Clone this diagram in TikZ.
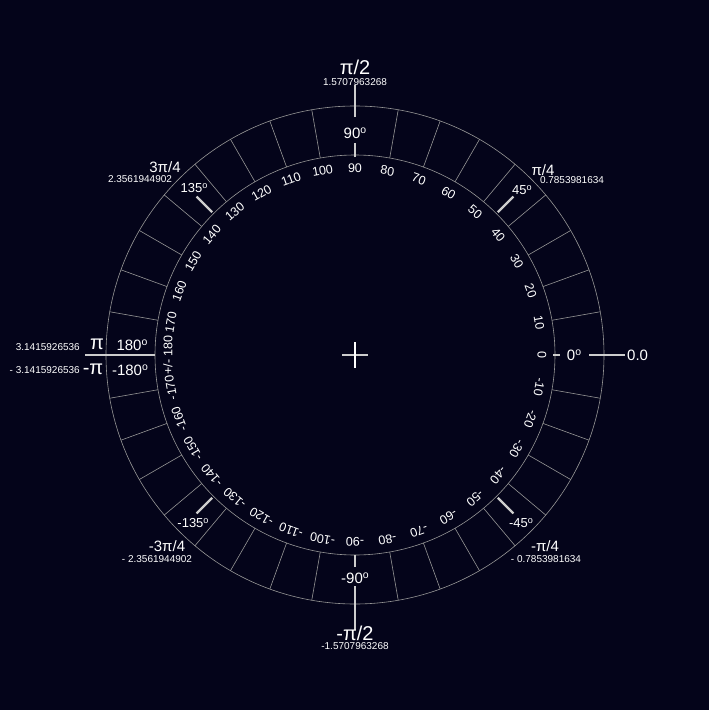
\documentclass[tikz,border=0pt]{standalone}
\usepackage{fontspec}
\setmainfont{Liberation Sans}
\usepackage{graphicx}
\definecolor{bgc}{RGB}{4,4,26}
\definecolor{thinc}{RGB}{150,150,150}
\definecolor{thickc}{RGB}{205,205,205}
\newcommand{\dg}{\raisebox{0.35em}{\scalebox{0.7}{o}}}
\begin{document}
\begin{tikzpicture}[x=1pt,y=1pt,
  thinline/.style={draw=thinc, line width=0.6pt},
  tickline/.style={draw=thickc, line width=2.4pt},
  num/.style={text=white, font=\fontsize{12.5}{12.5}\selectfont, inner sep=0pt},
  axdeg/.style={text=white, font=\fontsize{15}{15}\selectfont, inner sep=0pt},
  diadeg/.style={text=white, font=\fontsize{13}{13}\selectfont, inner sep=0pt},
  axrad/.style={text=white, font=\fontsize{20}{20}\selectfont, inner sep=0pt},
  diarad/.style={text=white, font=\fontsize{15}{15}\selectfont, inner sep=0pt},
  declab/.style={text=white, font=\fontsize{10}{10}\selectfont, inner sep=0pt}]
\fill[bgc] (-355,-355) rectangle (354,355);
\useasboundingbox (-355,-355) rectangle (354,355);
\coordinate (c) at (0,0);
% rings
\draw[thinline] (c) circle (200);
\draw[thinline] (c) circle (249);
\foreach \a in {10,20,...,80,100,110,...,170,190,200,...,260,280,290,...,350}
  \draw[thinline] (\a:200) -- (\a:249);
% centre cross
\draw[draw=thickc, line width=2pt] (-13,0) -- (13,0);
\draw[draw=white, line width=2pt] (0,-13) -- (0,13);
% inner degree numbers
\foreach \a in {-170,-160,...,170}
  \node[num, rotate=\a-90] (n\a) at (\a:187) {\a};
\node[num, rotate=90] (n180) at (180:187) {+/- 180};
% 0
\draw[tickline] (0:198) -- (0:205);
\draw[tickline] (0:234) -- (0:270);
\node[axdeg] (d0) at (219,0) {0\dg};
\node[axdeg, anchor=west] (r0) at (272,0) {0.0};
% 90
\draw[tickline] (90:198) -- (90:212);
\draw[tickline] (90:238) -- (90:270);
\node[axdeg] (d90) at (0,222) {90\dg};
\node[declab, anchor=south] (v90) at (0,269) {1.5707963268};
\node[axrad, anchor=south] (r90) at (0,280) {π/2};
% -90
\draw[tickline] (270:200) -- (270:212);
\draw[tickline] (270:231) -- (270:275);
\node[axdeg] (dm90) at (0,-223) {-90\dg};
\node[axrad, anchor=north] (rm90) at (0,-271) {-π/2};
\node[declab, anchor=north] (vm90) at (0,-287) {-1.5707963268};
% 180
\draw[tickline] (180:200) -- (180:270);
\node[axdeg] (d180) at (-223,10) {180\dg};
\node[axdeg] (dm180) at (-225,-15) {-180\dg};
\node[axrad] (r180) at (-258,11) {π};
\node[axrad] (rm180) at (-262,-14) {-π};
\node[declab, anchor=east] (v180) at (-275,8) {3.1415926536};
\node[declab, anchor=east] (vm180) at (-275,-15) {- 3.1415926536};
% diagonals
\foreach \a in {45,135,-45,-135}
  \draw[tickline] (\a:202) -- (\a:224);
\node[diadeg] (d45) at (167,165) {45\dg};
\node[diarad] (r45) at (188,185) {π/4};
\node[declab] (v45) at (217,175) {0.7853981634};
\node[diadeg] (d135) at (-161,167) {135\dg};
\node[diarad] (r135) at (-190,188) {3π/4};
\node[declab] (v135) at (-215,176) {2.3561944902};
\node[diadeg] (dm135) at (-162,-168) {-135\dg};
\node[diarad] (rm135) at (-188,-191) {-3π/4};
\node[declab] (vm135) at (-198,-204) {- 2.3561944902};
\node[diadeg] (dm45) at (166,-168) {-45\dg};
\node[diarad] (rm45) at (190,-191) {-π/4};
\node[declab] (vm45) at (191,-204) {- 0.7853981634};
\end{tikzpicture}
\end{document}
